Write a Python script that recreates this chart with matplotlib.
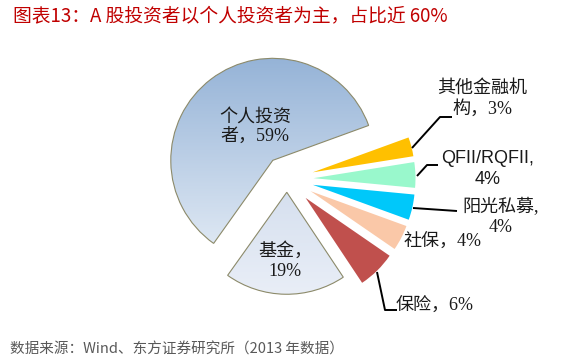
import numpy as np
import matplotlib
matplotlib.use("Agg")
import matplotlib.pyplot as plt
from matplotlib.colors import LinearSegmentedColormap

plt.rcParams['font.family'] = ['Noto Sans CJK SC', 'DejaVu Sans']

# data
labels = ["个人投资\n者，59%", "基金，\n19%", "保险，6%", "社保，4%",
          "阳光私募,\n4%", "QFII/RQFII,\n4%", "其他金融机\n构，3%"]
shares = [59, 19, 6, 4, 4, 4, 3]
colors = ["#95B3D7", "#DCE6F2", "#C0504D", "#FAC8A8", "#00C8FA", "#99F8CC", "#FFC000"]
explode = [0.23, 0.13, 0.26, 0.26, 0.26, 0.26, 0.26]   # fraction of radius

W, H = 572, 363
fig = plt.figure(figsize=(W / 100, H / 100), dpi=100)
ax = fig.add_axes([0, 0, 1, 1])

cx, cy, r = 287, H - 179, 102
# pie's explode offset is in data units, so scale by radius
wedges, _ = ax.pie(shares, startangle=20, explode=[e * r for e in explode],
                   colors=colors, radius=r, center=(cx, cy), counterclock=True)

# gradient fill for the two big slices
grads = [("#95B3D7", "#DDE7F3"), ("#D6E0EF", "#E9EEF7")]
for w, (top, bot) in zip(wedges[:2], grads):
    cmap = LinearSegmentedColormap.from_list("g", [bot, top])
    bb = w.get_path().get_extents()
    grad = np.linspace(1, 0, 256).reshape(-1, 1)
    im = ax.imshow(grad, cmap=cmap, aspect="auto", interpolation="bicubic",
                   extent=(bb.x0, bb.x1, bb.y0, bb.y1), zorder=w.get_zorder() - 0.1)
    im.set_clip_path(w)
    w.set_facecolor("none")
    w.set_edgecolor("#8C8A6A")
    w.set_linewidth(0.8)

ax.set_xlim(0, W)
ax.set_ylim(0, H)
ax.set_aspect("equal")
ax.axis("off")

serif = ['Liberation Serif', 'Noto Sans CJK SC']
lab_pos = [(255, 127), (285, 261), (435, 305), (442, 242), (501, 217), (488, 169), (482, 99)]
for i, (txt, (x, y)) in enumerate(zip(labels, lab_pos)):
    fam = ['Liberation Sans', 'Noto Sans CJK SC'] if i == 5 else serif
    ax.text(x, H - y, txt, ha="center", va="center", fontsize=13,
            family=fam, linespacing=1.25, color="#1a1a1a")

# leader lines
leaders = [
    [(412, 148), (440, 117), (452, 117)],
    [(417, 176), (427, 165), (438, 165)],
    [(413, 208), (457, 211)],
    [(377, 272), (385, 310), (397, 310)],
]
for pts in leaders:
    xs = [p[0] for p in pts]
    ys = [H - p[1] for p in pts]
    ax.plot(xs, ys, color="black", lw=1.4, solid_capstyle="butt")

fig.text(13 / W, 1 - 16 / H, "图表13：A 股投资者以个人投资者为主，占比近 60%",
         color="#C00000", fontsize=13.5, ha="left", va="center")
fig.text(10 / W, 1 - 350 / H, "数据来源：Wind、东方证券研究所（2013 年数据）",
         color="#595959", fontsize=10.5, ha="left", va="center")

fig.savefig("out.png", dpi=100)
